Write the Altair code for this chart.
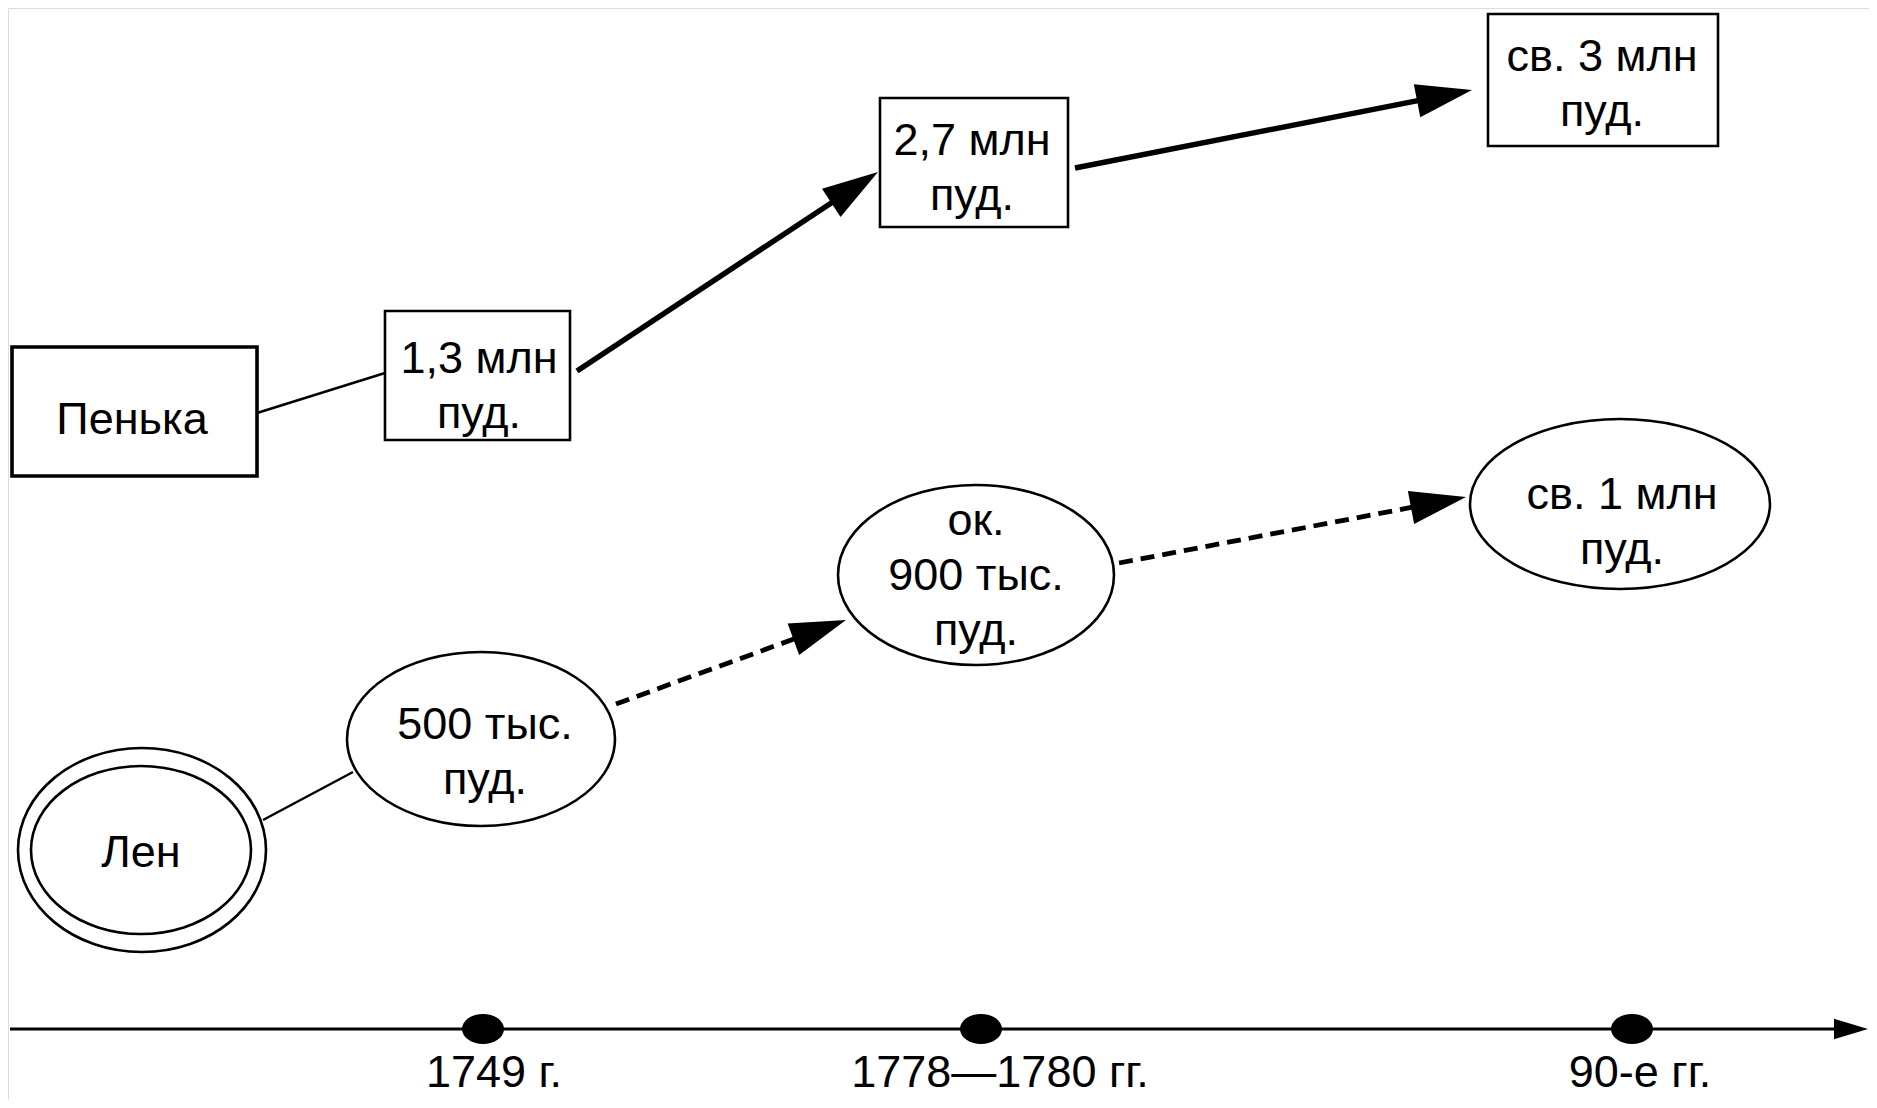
import altair as alt
import pandas as pd
import numpy as np

# ---------------- data ----------------
# rectangular nodes (Пенька series)
box_text = ["Пенька", "1,3 млн\nпуд.", "2,7 млн\nпуд.", "св. 3 млн\nпуд."]
box_x1 = [12, 385, 880, 1488]
box_x2 = [257, 570, 1068, 1718]
box_y1 = [347, 311, 98, 14]
box_y2 = [476, 440, 227, 146]
box_sw = [3.6, 2.6, 2.6, 2.6]
box_tx = [132, 479, 972, 1602]
box_ty = [420, 386, 168, 84]

# elliptic nodes (Лен series)
ell_text = ["Лен", "", "500 тыс.\nпуд.", "ок.\n900 тыс.\nпуд.", "св. 1 млн\nпуд."]
ell_cx = [142, 141, 481, 976, 1620]
ell_cy = [850, 850, 739, 575, 504]
ell_rx = [124, 110, 134, 138, 150]
ell_ry = [102, 84, 87, 90, 85]
ell_tx = [141, 141, 485, 976, 1622]
ell_ty = [853, 853, 752, 576, 522]

# connectors
con_x1 = [257, 577, 1075, 263, 616, 1119]
con_y1 = [413, 371, 168, 820, 704, 563]
con_x2 = [385, 878, 1472, 353, 846, 1466]
con_y2 = [373, 172, 90, 772, 620, 497]
con_kind = ["thin", "thick", "thick", "thin", "dash", "dash"]

# timeline
tl_labels = ["1749 г.", "1778—1780 гг.", "90-е гг."]
tl_x = [483, 981, 1632]
tl_label_x = [494, 1000, 1640]
tl_y = 1029
tl_label_y = 1073

FONT = "Liberation Sans, Arial, sans-serif"
FS = 45
LH = 55

W, H = 1861, 1092
xs = alt.Scale(domain=[8, 8 + W], nice=False, zero=False)
ys = alt.Scale(domain=[8, 8 + H], nice=False, zero=False, reverse=True)


def ellipse_path(r):
    k = 0.5523
    return (f"M1,0C1,{k*r:.4f} {k:.4f},{r:.4f} 0,{r:.4f}"
            f"C{-k:.4f},{r:.4f} -1,{k*r:.4f} -1,0"
            f"C-1,{-k*r:.4f} {-k:.4f},{-r:.4f} 0,{-r:.4f}"
            f"C{k:.4f},{-r:.4f} 1,{-k*r:.4f} 1,0Z")


ARROW = "M1,0L-1,-0.6L-1,0.6Z"


def first_line_y(texts, centers):
    return [c - (t.count("\n")) * LH / 2 for t, c in zip(texts, centers)]


# ---------------- tables ----------------
boxes = pd.DataFrame(dict(t=box_text, x1=box_x1, x2=box_x2, y1=box_y1, y2=box_y2, sw=box_sw,
                          tx=box_tx, ty=first_line_y(box_text, box_ty)))

ells = pd.DataFrame(dict(t=ell_text, cx=ell_cx, cy=ell_cy, rx=ell_rx, ry=ell_ry,
                         tx=ell_tx, ty=first_line_y(ell_text, ell_ty)))
ells["shape"] = [ellipse_path(ry / rx) for rx, ry in zip(ell_rx, ell_ry)]
ells["size"] = (2 * ells.rx) ** 2

con = pd.DataFrame(dict(x1=con_x1, y1=con_y1, x2=con_x2, y2=con_y2, kind=con_kind))
L = 56
dx = con.x2 - con.x1
dy = con.y2 - con.y1
n = np.hypot(dx, dy)
con["ux"], con["uy"] = dx / n, dy / n
con["ang"] = np.degrees(np.arctan2(dy, dx)) % 360
con["hx"] = con.x2 - con.ux * L / 2
con["hy"] = con.y2 - con.uy * L / 2
arrows = con[con.kind != "thin"].copy()
con.loc[con.kind != "thin", "x2"] = con.hx
con.loc[con.kind != "thin", "y2"] = con.hy

tl_tip = 1868
TL_L = 34
timeline = pd.DataFrame(dict(x1=[10], x2=[tl_tip - TL_L / 2], y=[tl_y]))
tl_head = pd.DataFrame(dict(x=[tl_tip - TL_L / 2], y=[tl_y], ang=[0]))
dots = pd.DataFrame(dict(x=tl_x, y=[tl_y] * 3))
tl_text = pd.DataFrame(dict(t=tl_labels, x=tl_label_x, y=[tl_label_y] * 3))

# ---------------- layers ----------------
def X(f):
    return alt.X(f, type="quantitative", scale=xs, axis=None)


def Y(f):
    return alt.Y(f, type="quantitative", scale=ys, axis=None)


layers = []
for kind, sw, dash in [("thin", 2.4, None), ("thick", 5.5, None), ("dash", 4.8, [14, 8])]:
    kw = dict(color="black", strokeWidth=sw, strokeCap="butt")
    if dash:
        kw["strokeDash"] = dash
    layers.append(
        alt.Chart(con[con.kind == kind]).mark_rule(**kw).encode(
            x=X("x1"), y=Y("y1"), x2="x2", y2="y2"))

layers.append(
    alt.Chart(arrows).mark_point(shape=ARROW, filled=True, color="black", opacity=1, size=L * L).encode(
        x=X("hx"), y=Y("hy"), angle=alt.Angle("ang:Q", scale=None)))

layers.append(
    alt.Chart(boxes).mark_rect(fill="white", stroke="black").encode(
        x=X("x1"), x2="x2", y=Y("y1"), y2="y2",
        strokeWidth=alt.StrokeWidth("sw:Q", scale=None)))

layers.append(
    alt.Chart(ells).mark_point(filled=False, fill="white", fillOpacity=1, stroke="black",
                               strokeWidth=2.6, opacity=1).encode(
        x=X("cx"), y=Y("cy"),
        shape=alt.Shape("shape:N", scale=None, legend=None),
        size=alt.Size("size:Q", scale=None, legend=None)))

text_kw = dict(font=FONT, fontSize=FS, color="black", align="center", baseline="middle",
               lineBreak="\n", lineHeight=LH)
layers.append(alt.Chart(boxes).mark_text(**text_kw).encode(x=X("tx"), y=Y("ty"), text="t:N"))
layers.append(alt.Chart(ells).mark_text(**text_kw).encode(x=X("tx"), y=Y("ty"), text="t:N"))

# timeline
layers.append(alt.Chart(timeline).mark_rule(color="black", strokeWidth=3.2).encode(
    x=X("x1"), x2="x2", y=Y("y")))
layers.append(alt.Chart(tl_head).mark_point(shape=ARROW, filled=True, color="black", opacity=1,
                                            size=TL_L * TL_L).encode(
    x=X("x"), y=Y("y"), angle=alt.Angle("ang:Q", scale=None)))
layers.append(alt.Chart(dots).mark_point(shape=ellipse_path(30 / 42), filled=True, color="black",
                                         opacity=1, size=42 * 42).encode(x=X("x"), y=Y("y")))
layers.append(alt.Chart(tl_text).mark_text(**text_kw).encode(x=X("x"), y=Y("y"), text="t:N"))

chart = alt.layer(*layers).properties(
    width=W, height=H, padding=0, autosize=alt.AutoSizeParams(type="none")
).configure_view(stroke=None).configure(background="white")

chart.save("out.html", embed_options={"renderer": "svg", "actions": False})
